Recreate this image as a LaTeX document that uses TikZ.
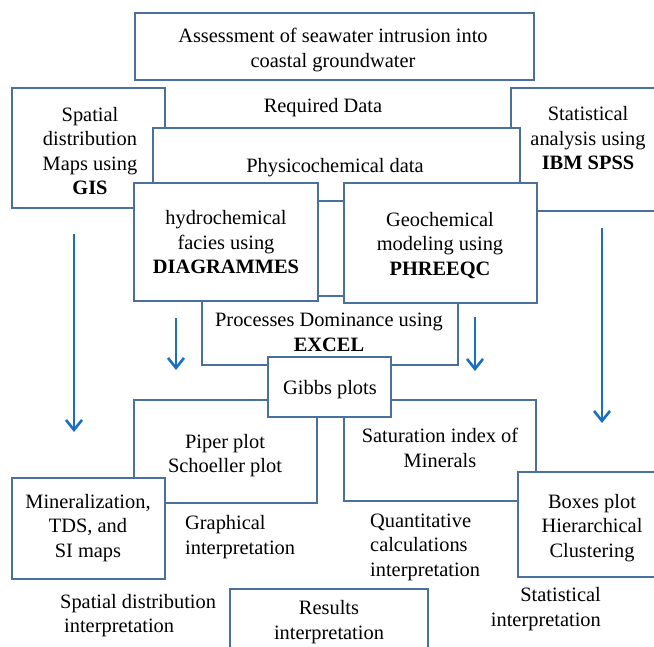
\documentclass[tikz,border=0pt]{standalone}
\usepackage{fontspec}
\setmainfont{Liberation Serif}
\usetikzlibrary{arrows.meta}
\definecolor{boxline}{HTML}{4A70A0}
\definecolor{arrowblue}{HTML}{1A6FC0}
\begin{document}
\begin{tikzpicture}[x=1pt,y=-1pt,
  box/.style={draw=boxline, line width=1.5pt, fill=white, rectangle, inner sep=0pt},
  txt/.style={inner sep=0pt, align=center, yshift=-1.5pt, font=\fontsize{20.4}{24.5}\selectfont},
  flow/.style={draw=arrowblue, line width=2.6pt, -{Straight Barb[length=10pt,width=16pt]}}
]
\useasboundingbox (0,0) rectangle (654,646);
\fill[white] (0,0) rectangle (654,646);

% layer 1
\node[box, minimum width=399pt, minimum height=67pt] (top) at (334.5,46.5) {};
\node[box, minimum width=153pt, minimum height=120pt] (spatial) at (88.5,148) {};
\node[box, minimum width=149pt, minimum height=123pt] (stat) at (585.5,149.5) {};
% layer 2
\node[box, minimum width=367pt, minimum height=73pt] (phys) at (336.5,164.5) {};
\node[box, minimum width=256pt, minimum height=69pt] (proc) at (330,330.5) {};
% layer 3
\node[box, minimum width=184pt, minimum height=118pt] (hydro) at (226,242) {};
\node[box, minimum width=193pt, minimum height=120pt] (geo) at (440.5,243) {};
% layer 4
\node[box, minimum width=183pt, minimum height=103pt] (piper) at (225.5,451.5) {};
\node[box, minimum width=192pt, minimum height=101pt] (sat) at (440,450.5) {};
\node[box, minimum width=123pt, minimum height=60pt] (gibbs) at (329.5,387) {};
% layer 5
\node[box, minimum width=153pt, minimum height=101pt] (mineral) at (88.5,528.5) {};
\node[box, minimum width=142pt, minimum height=105pt] (boxes) at (589,524.5) {};
\node[box, minimum width=198pt, minimum height=71pt] (results) at (329,624.5) {};

% texts
\node[txt] (topT) at (333,48.5) {Assessment of seawater intrusion into\\coastal groundwater};
\node[txt] (reqT) at (323,106) {Required Data};
\node[txt] (spatialT) at (90,149.5) {Spatial\\distribution\\Maps using\\\textbf{GIS}};
\node[txt] (statT) at (588,137) {Statistical\\analysis using\\\textbf{IBM SPSS}};
\node[txt] (physT) at (335,166) {Physicochemical data};
\node[txt] (hydroT) at (226,241) {hydrochemical\\facies using\\\textbf{DIAGRAMMES}};
\node[txt] (geoT) at (440,244) {Geochemical\\modeling using\\\textbf{PHREEQC}};
\node[txt] (procT) at (329,331) {Processes Dominance using\\\textbf{EXCEL}};
\node[txt] (gibbsT) at (330,388) {Gibbs plots};
\node[txt] (piperT) at (225,454) {Piper plot\\Schoeller plot};
\node[txt] (satT) at (440,446.5) {Saturation index of\\Minerals};
\node[txt] (mineralT) at (88,526.5) {Mineralization,\\TDS, and\\SI maps};
\node[txt, anchor=west, align=left] (graphT) at (185,535.5) {Graphical\\interpretation};
\node[txt, anchor=west, align=left] (quantT) at (370,545.5) {Quantitative\\calculations\\interpretation};
\node[txt] (boxesT) at (592,526.5) {Boxes plot\\Hierarchical\\Clustering};
\node[txt, anchor=west, align=left] (spIntT) at (60,614) {Spatial distribution\\\hspace*{4pt}interpretation};
\node[txt] (resultsT) at (329,620.5) {Results\\interpretation};
\node[txt, anchor=east, align=right] (stIntT) at (601,607.5) {Statistical\\interpretation};

% arrows
\coordinate (a1s) at (74,234);  \coordinate (a1e) at (74,432);
\coordinate (a2s) at (176,318); \coordinate (a2e) at (176,370);
\coordinate (a3s) at (475,317); \coordinate (a3e) at (475,371);
\coordinate (a4s) at (602,228); \coordinate (a4e) at (602,423);
\draw[flow] (a1s) -- (a1e);
\draw[flow] (a2s) -- (a2e);
\draw[flow] (a3s) -- (a3e);
\draw[flow] (a4s) -- (a4e);
\end{tikzpicture}
\end{document}
